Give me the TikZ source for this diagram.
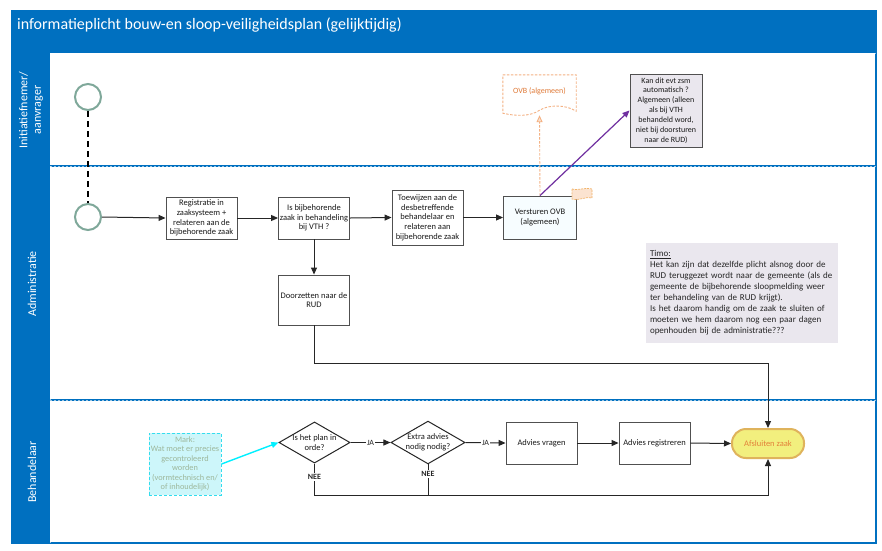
\documentclass[tikz,border=0pt]{standalone}
\usepackage{fontspec}
\setmainfont{Carlito}
\usetikzlibrary{arrows.meta,shapes.geometric,calc}
\definecolor{laneblue}{HTML}{0070C0}
\definecolor{boxline}{HTML}{505050}
\definecolor{connline}{HTML}{262626}
\definecolor{startline}{HTML}{7FA89A}
\definecolor{notefill}{HTML}{EAE7EE}
\definecolor{markfill}{HTML}{CDF6FA}
\definecolor{markline}{HTML}{33DDEE}
\definecolor{marktext}{HTML}{9DB79B}
\definecolor{endfill}{HTML}{F2EF7E}
\definecolor{endline}{HTML}{DFB35C}
\definecolor{endtext}{HTML}{E3813A}
\definecolor{docline}{HTML}{F4B183}
\definecolor{doctext}{HTML}{E07B39}
\definecolor{flagfill}{HTML}{FBE3D0}
\definecolor{flagline}{HTML}{F2B46A}
\definecolor{purpleline}{HTML}{7030A0}
\definecolor{cyanline}{HTML}{00F0FF}
\tikzset{
  lanefill/.style={fill=laneblue, draw=none},
  laneline/.style={draw=laneblue, line width=2.2pt},
  lanedash/.style={draw=white, line width=0.5pt, dash pattern=on 2pt off 2pt, opacity=0.6},
  lanelabel/.style={rotate=90, text=white, font=\fontsize{12}{13.5}\selectfont, align=center},
  procbox/.style={draw=boxline, line width=0.9pt, fill=white, font=\fontsize{8.5}{9.7}\selectfont,
    align=center, inner sep=0pt, minimum width=71pt, minimum height=42pt, text=black!90},
  decision/.style={diamond, draw=connline, line width=1pt, fill=white, aspect=1.73,
    font=\fontsize{8.5}{9.7}\selectfont, align=center, inner sep=0pt, minimum width=71pt, minimum height=41pt, text=black!90},
  startev/.style={circle, draw=startline, line width=2pt, fill=white, minimum size=26pt, inner sep=0pt},
  conn/.style={draw=connline, line width=1pt, -{Triangle[length=7pt,width=6pt]}},
  plainconn/.style={draw=connline, line width=1pt},
  jalabel/.style={fill=white, inner sep=1pt, font=\fontsize{8}{9}\selectfont, text=connline},
  neelabel/.style={fill=white, inner sep=1pt, font=\bfseries\fontsize{8}{9}\selectfont, text=connline},
}
\begin{document}
\begin{tikzpicture}[x=1pt,y=-1pt]
\useasboundingbox (0,0) rectangle (882,550);
% frame
\fill[white] (0,0) rectangle (882,550);
\path[lanefill] (11,10) rectangle (877,53);
\path[lanefill] (11,53) rectangle (50,544);
\draw[laneline] (50,166) -- (876,166);
\draw[laneline] (50,400) -- (876,400);
\draw[laneline] (876,52) -- (876,543) -- (11,543);
\draw[lanedash] (50,166) -- (876,166);
\draw[lanedash] (50,400) -- (876,400);
\draw[lanedash] (50,54) -- (50,543);
\draw[lanedash] (50,53) -- (876,53);
\node[anchor=west, text=white, font=\fontsize{16}{18}\selectfont, inner sep=0pt] (title) at (17,25) {informatieplicht bouw-en sloop-veiligheidsplan (gelijktijdig)};
\node[lanelabel] (lane1) at (31,110) {Initiatiefnemer/\\aanvrager};
\node[lanelabel] (lane2) at (32,284) {Administratie};
\node[lanelabel] (lane3) at (32,472) {Behandelaar};

% start events
\node[startev] (s1) at (88,97) {};
\node[startev] (s2) at (88,217) {};
\draw[black, line width=1.1pt, dash pattern=on 6pt off 4pt] (s1.south) -- (s2.north);

% administratie
\node[procbox] (b1) at (201.5,218) {Registratie in\\zaaksysteem +\\relateren aan de\\bijbehorende zaak};
\node[procbox] (b2) at (314,218) {Is bijbehorende\\zaak in behandeling\\bij VTH ?};
\node[procbox, minimum height=55pt] (b3) at (427.5,217.5) {Toewijzen aan de\\desbetreffende\\behandelaar en\\relateren aan\\bijbehorende zaak};
\node[procbox, fill=white!97!cyan, minimum width=73pt, minimum height=43pt] (b4) at (540,217.5) {Versturen OVB\\(algemeen)};
\node[procbox, minimum height=50pt] (b5) at (314,300) {Doorzetten naar de\\RUD};

\draw[conn] (s2.east) -- (b1.west);
\draw[conn] (b1.east) -- (b2.west);
\draw[conn] (b2.east) -- (b3.west);
\draw[conn] (b3.east) -- (b4.west);
\draw[conn] (b2.south) -- (b5.north);

% flag annotation
\draw[draw=flagline, fill=flagfill, line width=0.7pt, dash pattern=on 2pt off 1pt]
  (572,189) .. controls (578,191) and (584,187) .. (592,189) -- (592,198)
  .. controls (586,196) and (580,201) .. (572,199) -- cycle;

% document OVB
\node[minimum width=73pt, minimum height=38pt, inner sep=0pt] (doc) at (539.5,94) {};
\draw[draw=docline, line width=0.9pt, dash pattern=on 2.5pt off 1.5pt, fill=white]
  (doc.north west) -- (doc.north east) -- ($(doc.south east)+(0,-2)$)
  .. controls (565,104) and (548,105) .. (540,110)
  .. controls (530,117) and (515,116) .. (doc.south west) -- cycle;
\node[text=doctext, font=\fontsize{8}{9.5}\selectfont] (doctxt) at (539.5,91) {OVB (algemeen)};
\draw[draw=docline, line width=0.9pt, dash pattern=on 2.5pt off 1.5pt, -{Triangle[length=7pt,width=6pt, fill=flagfill]}] (b4.north) -- ($(doc.south)+(0,2)$);

% Kan dit box
\node[draw=boxline, line width=1pt, fill=notefill, font=\fontsize{8}{9.9}\selectfont, align=center,
  minimum width=72pt, minimum height=73pt, inner sep=0pt, text=black!90] (kan) at (666,110.5)
  {Kan dit evt zsm\\automatisch ?\\Algemeen (alleen\\als bij VTH\\behandeld word,\\niet bij doorsturen\\naar de RUD)};
\draw[draw=purpleline, line width=1.2pt, -{Triangle[length=7pt,width=6pt]}] (b4.north) -- (kan.west);

% Timo note
\node[fill=notefill, draw=none, minimum width=192pt, minimum height=100pt, text width=184pt,
  align=left, inner sep=0pt, font=\fontsize{9}{11}\selectfont, text=black!85] (timo) at (742,293)
  {\underline{Timo:}\\Het kan zijn dat dezelfde plicht alsnog door de\\RUD teruggezet wordt naar de gemeente (als de\\gemeente de bijbehorende sloopmelding weer\\ter behandeling van de RUD krijgt).\\Is het daarom handig om de zaak te sluiten of\\moeten we hem daarom nog een paar dagen\\openhouden bij de administratie???};

% behandelaar
\node[draw=markline, fill=markfill, line width=1pt, dash pattern=on 3pt off 2pt, text=marktext,
  font=\fontsize{8.3}{9.5}\selectfont, align=center, minimum width=72pt, minimum height=62pt, inner sep=0pt]
  (mark) at (185,464) {Mark:\\Wat moet er precies\\gecontroleerd\\worden\\(vormtechnisch en/\\of inhoudelijk)};
\node[decision] (d1) at (314.5,442.5) {Is het plan in\\orde?};
\node[decision] (d2) at (428,442.5) {Extra advies\\nodig nodig?};
\node[procbox] (av) at (541.5,443) {Advies vragen};
\node[procbox] (ar) at (654.5,443) {Advies registreren};
\node[draw=endline, fill=endfill, line width=2pt, rounded corners=14pt, minimum width=72pt, minimum height=29pt,
  inner sep=0pt, text=endtext, font=\fontsize{8.5}{9.6}\selectfont] (afs) at (768,443.5) {Afsluiten zaak};

\draw[draw=cyanline, line width=1.4pt, -{Triangle[length=7pt,width=6pt]}] (mark.east) -- (d1.west);
\draw[conn] (d1.east) -- node[jalabel] (ja1) {JA} (d2.west);
\draw[conn] (d2.east) -- node[jalabel] (ja2) {JA} (av.west);
\draw[conn] (av.east) -- (ar.west);
\draw[conn] (ar.east) -- (afs.west);
\draw[conn] (d1.south) -- ++(0,31.5) -| (afs.south);
\draw[plainconn] (d2.south) -- ++(0,31.5);
\draw[conn] (b5.south) -- ++(0,38) -| (afs.north);
\node[neelabel] (nee1) at (314.5,477) {NEE};
\node[neelabel] (nee2) at (428,474) {NEE};
\end{tikzpicture}
\end{document}
